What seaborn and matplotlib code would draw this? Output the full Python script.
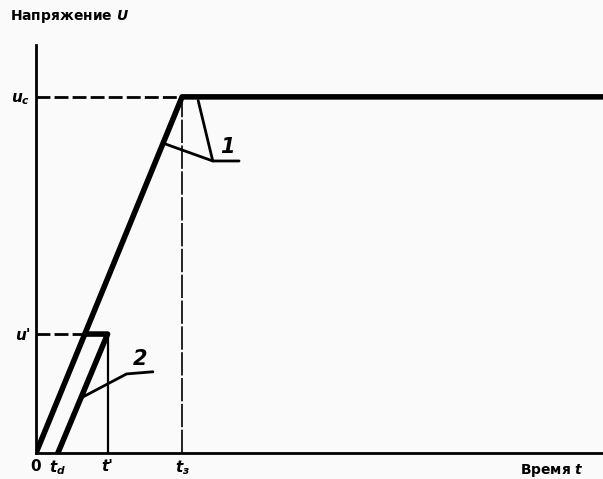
import seaborn as sns
import pandas as pd
import matplotlib.pyplot as plt

# time points (t_з = 1) and voltage levels (U_c = 1)
t_marks = [0.0, 0.15, 0.49, 1.0]
t_labels = ['0', '$t_d$', "t'", '$t_з$']
u_marks = [0.334, 1.0]
u_labels = ["u'", '$u_c$']

# curve 1: ramp to U_c then hold
curve1_t = [0.0, 1.0, 3.88]
curve1_u = [0.0, 1.0, 1.0]
# curve 2: delayed ramp to u', cut off at t'
curve2_t = [0.334, 0.49, 0.15]
curve2_u = [0.334, 0.334, 0.0]

# leader lines for the labels
lead1_t = [0.87, 1.21, 1.39]
lead1_u = [0.87, 0.82, 0.82]
tick1_t = [1.11, 1.21]
tick1_u = [0.99, 0.82]
lead2_t = [0.31, 0.62, 0.80]
lead2_u = [0.155, 0.222, 0.228]

sns.set_style('white')
plt.rcParams['font.family'] = ['DejaVu Sans']
plt.rcParams['text.color'] = 'black'
plt.rcParams['xtick.color'] = 'black'
plt.rcParams['ytick.color'] = 'black'
plt.rcParams['mathtext.fontset'] = 'custom'
plt.rcParams['mathtext.it'] = 'DejaVu Sans:bold:italic'
plt.rcParams['mathtext.rm'] = 'DejaVu Sans:bold'

fig = plt.figure(figsize=(6.03, 4.79), dpi=100)
fig.patch.set_facecolor('#f9faf9')
ax = fig.add_axes([0.0597, 0.0543, 0.940, 0.852])
ax.set_facecolor('#f9faf9')

df1 = pd.DataFrame({'t': curve1_t, 'u': curve1_u})
df2 = pd.DataFrame({'t': curve2_t, 'u': curve2_u})
sns.lineplot(data=df1, x='t', y='u', sort=False, color='black', lw=4, ax=ax)
sns.lineplot(data=df2, x='t', y='u', sort=False, color='black', lw=4, ax=ax)

# guide lines
ax.plot([0, t_marks[3]], [u_marks[1], u_marks[1]], color='black', lw=2, ls=(0, (5, 1.5)))
ax.plot([0, curve2_t[0]], [u_marks[0], u_marks[0]], color='black', lw=2, ls=(0, (5, 1.5)))
ax.plot([t_marks[3], t_marks[3]], [0, u_marks[1]], color='black', lw=1.2, ls=(0, (14, 1.5)))
ax.plot([t_marks[2], t_marks[2]], [0, u_marks[0]], color='black', lw=1.6)

# leaders
ax.plot(lead1_t, lead1_u, color='black', lw=2)
ax.plot(tick1_t, tick1_u, color='black', lw=2)
ax.plot(lead2_t, lead2_u, color='black', lw=2)
ax.text(1.31, 0.83, '1', fontsize=15, fontweight='bold', style='italic', ha='center', va='bottom')
ax.text(0.71, 0.235, '2', fontsize=15, fontweight='bold', style='italic', ha='center', va='bottom')

ax.set_xlim(0, 3.88)
ax.set_ylim(0, 1.146)
ax.set_xticks(t_marks)
ax.set_xticklabels(t_labels, fontsize=11, fontweight='bold')
ax.set_yticks(u_marks)
ax.set_yticklabels(u_labels, fontsize=11, fontweight='bold')
for lbl in ax.get_xticklabels() + ax.get_yticklabels():
    if "'" in lbl.get_text():
        lbl.set_fontstyle('italic')
ax.tick_params(length=0, pad=4)
ax.set_xlabel('')
ax.set_ylabel('')
sns.despine(ax=ax)
for s in ['left', 'bottom']:
    ax.spines[s].set_linewidth(2)
    ax.spines[s].set_color('black')

fig.text(0.017, 0.965, 'Напряжение $U$', fontsize=10, fontweight='bold', va='center')
fig.text(0.862, 0.018, 'Время $t$', fontsize=10, fontweight='bold', va='center')

fig.savefig('out.png', dpi=100, facecolor=fig.get_facecolor())
